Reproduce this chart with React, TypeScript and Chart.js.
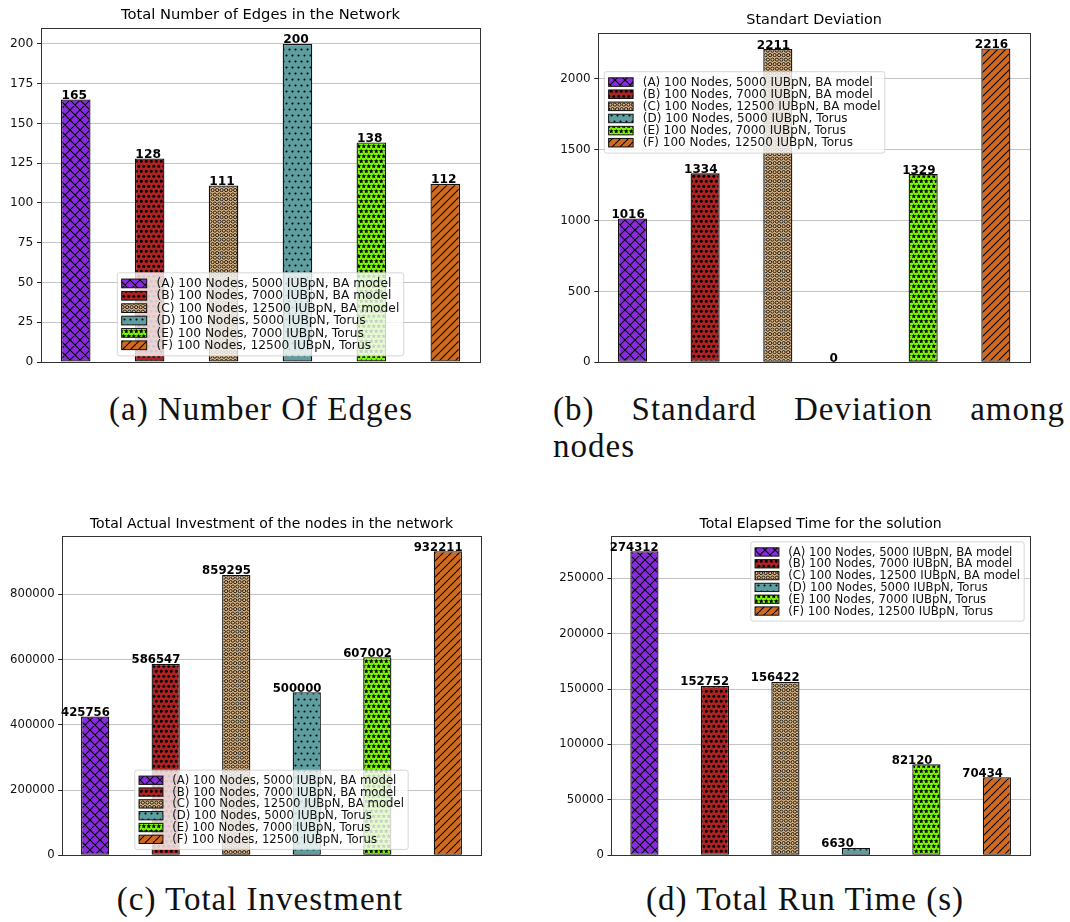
import React, { useEffect, useRef } from 'react';
import { Chart, registerables } from 'chart.js';

Chart.register(...registerables);

// ---- data ----
const seriesLabels = [
  '(A) 100 Nodes, 5000 IUBpN, BA model',
  '(B) 100 Nodes, 7000 IUBpN, BA model',
  '(C) 100 Nodes, 12500 IUBpN, BA model',
  '(D) 100 Nodes, 5000 IUBpN, Torus',
  '(E) 100 Nodes, 7000 IUBpN, Torus',
  '(F) 100 Nodes, 12500 IUBpN, Torus',
];
const barPositions = [0, 1, 2, 3, 4, 5];

const edgeCounts = [165, 128, 111, 200, 138, 112];
const edgeTicks = [0, 25, 50, 75, 100, 125, 150, 175, 200];

const stdDevValues = [1016, 1334, 2211, 0, 1329, 2216];
const stdDevTicks = [0, 500, 1000, 1500, 2000];

const investmentValues = [425756, 586547, 859295, 500000, 607002, 932211];
const investmentTicks = [0, 200000, 400000, 600000, 800000];

const runTimeValues = [274312, 152752, 156422, 6630, 82120, 70434];
const runTimeTicks = [0, 50000, 100000, 150000, 200000, 250000];

// ---- styles ----
const seriesColors = ['#8a2be2', '#b22222', '#deb887', '#5f9ea0', '#7cfc00', '#d2691e'];
const hatchKinds = ['cross', 'dots', 'rings', 'smalldots', 'stars', 'diag'];

const SANS = '"DejaVu Sans", sans-serif';
const BASE_FONT = 12.25;
const TITLE_FONT = 14.7;
const GRID_COLOR = 'rgba(176,176,176,0.75)';
const EDGE_COLOR = '#111';

function makeTile(w: number, h: number, draw: (g: CanvasRenderingContext2D, w: number, h: number) => void) {
  const c = document.createElement('canvas');
  c.width = w;
  c.height = h;
  const g = c.getContext('2d') as CanvasRenderingContext2D;
  draw(g, w, h);
  return c;
}

function starPath(g: CanvasRenderingContext2D, cx: number, cy: number, R: number, r: number) {
  g.beginPath();
  for (let k = 0; k < 10; k++) {
    const a = -Math.PI / 2 + (k * Math.PI) / 5;
    const rad = k % 2 === 0 ? R : r;
    const px = cx + rad * Math.cos(a);
    const py = cy + rad * Math.sin(a);
    if (k === 0) g.moveTo(px, py);
    else g.lineTo(px, py);
  }
  g.closePath();
}

// staggered shape lattice: rows every P, odd rows shifted by P/2
function shapeTile(color: string, P: number, shape: (g: CanvasRenderingContext2D, x: number, y: number) => void) {
  const S = Math.round(2 * P);
  return makeTile(S, S, (g, w, h) => {
    g.fillStyle = color;
    g.fillRect(0, 0, w, h);
    const pts: [number, number][] = [
      [0, 0], [P, 0], [P / 2, P], [1.5 * P, P],
    ];
    for (const [x, y] of pts) {
      for (const dx of [-S, 0, S]) {
        for (const dy of [-S, 0, S]) {
          shape(g, x + dx + 0.25 * P, y + dy + 0.25 * P);
        }
      }
    }
  });
}

function hatchTile(kind: string, color: string): HTMLCanvasElement {
  switch (kind) {
    case 'cross':
      return makeTile(10, 10, (g, w, h) => {
        g.fillStyle = color;
        g.fillRect(0, 0, w, h);
        g.strokeStyle = '#000';
        g.lineWidth = 1.1;
        g.beginPath();
        for (const k of [-w, 0, w]) {
          g.moveTo(k, 0);
          g.lineTo(k + w, h);
          g.moveTo(k, h);
          g.lineTo(k + w, 0);
        }
        g.stroke();
      });
    case 'diag':
      return makeTile(8, 8, (g, w, h) => {
        g.fillStyle = color;
        g.fillRect(0, 0, w, h);
        g.strokeStyle = '#000';
        g.lineWidth = 1.1;
        g.beginPath();
        for (const k of [-w, 0, w]) {
          g.moveTo(k, h);
          g.lineTo(k + w, 0);
        }
        g.stroke();
      });
    case 'dots':
      return shapeTile(color, 5, (g, x, y) => {
        g.fillStyle = '#000';
        g.beginPath();
        g.arc(x, y, 1.5, 0, Math.PI * 2);
        g.fill();
      });
    case 'smalldots':
      return shapeTile(color, 6, (g, x, y) => {
        g.fillStyle = '#000';
        g.beginPath();
        g.arc(x, y, 1.05, 0, Math.PI * 2);
        g.fill();
      });
    case 'rings':
      return shapeTile(color, 4.5, (g, x, y) => {
        g.strokeStyle = '#000';
        g.lineWidth = 0.85;
        g.beginPath();
        g.arc(x, y, 1.6, 0, Math.PI * 2);
        g.stroke();
      });
    case 'stars':
    default:
      return shapeTile(color, 5, (g, x, y) => {
        g.fillStyle = '#000';
        starPath(g, x, y, 2.6, 1.15);
        g.fill();
      });
  }
}

type LegendPlace = { h: 'left' | 'center' | 'right'; v: 'top' | 'bottom'; top?: number };

type PanelSpec = {
  title: string;
  values: number[];
  ticks: number[];
  left: number;
  top: number;
  width: number;
  height: number;
  area: { l: number; t: number; r: number; b: number };
  titleY: number;
  scale: number;
  labelShift: number;
  legend: LegendPlace;
};

const panels: PanelSpec[] = [
  {
    title: 'Total Number of Edges in the Network',
    values: edgeCounts,
    ticks: edgeTicks,
    left: 0, top: 0, width: 495, height: 375,
    area: { l: 41, t: 28, r: 480, b: 362 },
    titleY: 15,
    scale: 1.0,
    labelShift: 0.5,
    legend: { h: 'center', v: 'bottom' },
  },
  {
    title: 'Standart Deviation',
    values: stdDevValues,
    ticks: stdDevTicks,
    left: 535, top: 0, width: 505, height: 375,
    area: { l: 63.3, t: 32.7, r: 495, b: 362.3 },
    titleY: 20.7,
    scale: 0.98,
    labelShift: -6.5,
    legend: { h: 'left', v: 'top', top: 39 },
  },
  {
    title: 'Total Actual Investment of the nodes in the network',
    values: investmentValues,
    ticks: investmentTicks,
    left: 0, top: 500, width: 495, height: 370,
    area: { l: 62, t: 36, r: 481, b: 355.3 },
    titleY: 24,
    scale: 0.955,
    labelShift: -20,
    legend: { h: 'center', v: 'bottom' },
  },
  {
    title: 'Total Elapsed Time for the solution',
    values: runTimeValues,
    ticks: runTimeTicks,
    left: 535, top: 500, width: 505, height: 370,
    area: { l: 76.3, t: 36, r: 495, b: 355.3 },
    titleY: 24,
    scale: 0.955,
    labelShift: -20.5,
    legend: { h: 'right', v: 'top' },
  },
];

function buildChart(canvas: HTMLCanvasElement, spec: PanelSpec, patterns: CanvasPattern[]) {
  const s = spec.scale;
  const fs = BASE_FONT * s;
  const tfs = TITLE_FONT * s;
  const tlh = tfs * 1.2;
  const yMax = Math.max(...spec.values) * 1.05;

  const decor = {
    id: 'panelDecor',
    afterDraw(chart: any) {
      const ctx: CanvasRenderingContext2D = chart.ctx;
      const ca = chart.chartArea;
      ctx.save();

      // axes frame
      ctx.strokeStyle = '#333';
      ctx.lineWidth = 1;
      ctx.strokeRect(Math.round(ca.left) + 0.5, Math.round(ca.top) + 0.5,
        Math.round(ca.right) - Math.round(ca.left), Math.round(ca.bottom) - Math.round(ca.top));

      // value labels
      ctx.font = `bold ${fs}px ${SANS}`;
      ctx.fillStyle = '#000';
      ctx.textAlign = 'left';
      ctx.textBaseline = 'alphabetic';
      chart.data.datasets.forEach((ds: any, i: number) => {
        const el = chart.getDatasetMeta(i).data[0];
        if (!el) return;
        const v = ds.data[0].y;
        const x = el.x - el.width / 2 + spec.labelShift;
        ctx.fillText(String(v), x, el.y - 0.5);
      });

      // legend
      ctx.font = `${fs}px ${SANS}`;
      const pad = 0.36 * fs;
      const rowH = 1.01 * fs;
      const hw = 2.04 * fs;
      const hh = 0.71 * fs;
      const gap = 0.8 * fs;
      const margin = 0.5 * fs;
      const tw = Math.max(...seriesLabels.map((t) => ctx.measureText(t).width));
      const w = pad + hw + gap + tw + pad;
      const h = seriesLabels.length * rowH + 2 * pad;
      let lx = ca.left + margin;
      if (spec.legend.h === 'center') lx = (ca.left + ca.right) / 2 - w / 2;
      if (spec.legend.h === 'right') lx = ca.right - margin - w;
      const ly = spec.legend.v === 'top' ? ca.top + (spec.legend.top ?? margin) : ca.bottom - margin - h;

      ctx.beginPath();
      const rr = 0.2 * fs;
      if ((ctx as any).roundRect) (ctx as any).roundRect(lx, ly, w, h, rr);
      else ctx.rect(lx, ly, w, h);
      ctx.fillStyle = 'rgba(255,255,255,0.8)';
      ctx.fill();
      ctx.strokeStyle = 'rgba(204,204,204,0.8)';
      ctx.lineWidth = 1;
      ctx.stroke();

      ctx.textBaseline = 'middle';
      seriesLabels.forEach((label, i) => {
        const cy = ly + pad + rowH * (i + 0.5);
        const hx = lx + pad;
        ctx.fillStyle = patterns[i];
        ctx.fillRect(hx, cy - hh / 2, hw, hh);
        ctx.strokeStyle = EDGE_COLOR;
        ctx.lineWidth = 1;
        ctx.strokeRect(hx, cy - hh / 2, hw, hh);
        ctx.fillStyle = '#111';
        ctx.fillText(label, hx + hw + gap, cy + 0.5);
      });

      ctx.restore();
    },
  };

  return new Chart(canvas, {
    type: 'bar',
    data: {
      datasets: seriesLabels.map((label, i) => ({
        label,
        data: [{ x: barPositions[i], y: spec.values[i] }],
        backgroundColor: patterns[i],
        borderColor: EDGE_COLOR,
        borderWidth: 1.3,
        borderSkipped: false,
        grouped: false,
        barPercentage: 0.4,
        categoryPercentage: 1,
      })),
    } as any,
    options: {
      responsive: false,
      maintainAspectRatio: false,
      animation: false,
      events: [],
      layout: {
        padding: {
          left: 0,
          top: 0,
          right: spec.width - spec.area.r,
          bottom: spec.height - spec.area.b,
        },
      },
      plugins: {
        legend: { display: false },
        tooltip: { enabled: false },
        title: {
          display: true,
          text: spec.title,
          fullSize: false,
          color: '#000',
          font: { family: SANS, size: tfs, weight: 'normal', lineHeight: 1.2 },
          padding: { top: spec.titleY - tlh / 2, bottom: spec.area.t - spec.titleY - tlh / 2 },
        },
      },
      scales: {
        x: {
          type: 'linear',
          display: false,
          offset: false,
          min: -0.47,
          max: 5.47,
          grid: { display: false, offset: false },
          afterBuildTicks: (axis: any) => {
            axis.ticks = barPositions.map((v) => ({ value: v }));
          },
        },
        y: {
          type: 'linear',
          min: 0,
          max: yMax,
          z: 1,
          afterFit: (axis: any) => {
            axis.width = spec.area.l;
          },
          afterBuildTicks: (axis: any) => {
            axis.ticks = spec.ticks.map((v) => ({ value: v }));
          },
          ticks: {
            color: '#111',
            font: { family: SANS, size: fs },
            padding: 3.7 * s,
            callback: (v: any) => String(v),
          },
          grid: {
            color: GRID_COLOR,
            lineWidth: 1,
            drawTicks: true,
            tickLength: 4 * s,
            tickColor: '#222',
            tickWidth: 1,
          },
          border: { display: false },
        },
      },
    } as any,
    plugins: [decor],
  });
}

function Panel({ spec }: { spec: PanelSpec }) {
  const ref = useRef<HTMLCanvasElement>(null);
  useEffect(() => {
    const canvas = ref.current;
    if (!canvas) return;
    const ctx = canvas.getContext('2d') as CanvasRenderingContext2D;
    const patterns = seriesColors.map(
      (c, i) => ctx.createPattern(hatchTile(hatchKinds[i], c), 'repeat') as CanvasPattern,
    );
    const chart = buildChart(canvas, spec, patterns);
    return () => chart.destroy();
  }, [spec]);
  return (
    <canvas
      ref={ref}
      width={spec.width}
      height={spec.height}
      style={{ position: 'absolute', left: spec.left, top: spec.top, width: spec.width, height: spec.height }}
    />
  );
}

const captionStyle: React.CSSProperties = {
  position: 'absolute',
  fontFamily: '"Liberation Serif", serif',
  fontSize: 33,
  lineHeight: '37px',
  letterSpacing: '1px',
  color: '#111',
  whiteSpace: 'nowrap',
};

export default function App() {
  return (
    <div style={{ position: 'absolute', left: 0, top: 0, width: 1070, height: 922, background: '#fff', overflow: 'hidden' }}>
      {panels.map((p, i) => (
        <Panel key={i} spec={p} />
      ))}
      <div style={{ ...captionStyle, left: 0, width: 522, top: 391, textAlign: 'center' }}>(a) Number Of Edges</div>
      <div style={{ ...captionStyle, left: 553, width: 512, top: 391, display: 'flex', justifyContent: 'space-between' }}>
        <span>(b)</span>
        <span>Standard</span>
        <span>Deviation</span>
        <span>among</span>
      </div>
      <div style={{ ...captionStyle, left: 553, top: 428 }}>nodes</div>
      <div style={{ ...captionStyle, left: 0, width: 520, top: 881, textAlign: 'center' }}>(c) Total Investment</div>
      <div style={{ ...captionStyle, left: 535, width: 540, top: 881, textAlign: 'center' }}>(d) Total Run Time (s)</div>
    </div>
  );
}
